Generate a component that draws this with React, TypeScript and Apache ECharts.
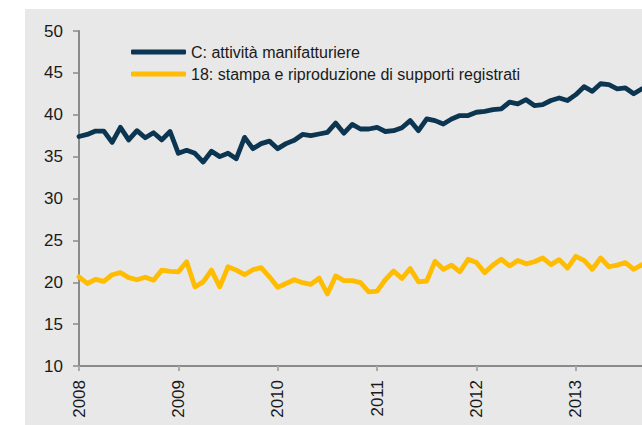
import React, { useEffect, useRef } from "react";
import * as echarts from "echarts";

const years = ["2008", "2009", "2010", "2011", "2012", "2013"];
const monthsShown = 69; // Jan 2008 .. Sep 2013 (visible part)

const seriesNames = [
  "C: attività manifatturiere",
  "18: stampa e riproduzione di supporti registrati",
];

const manifatturiere = [
  37.4, 37.65, 38.05, 38.05, 36.7, 38.5, 37.0, 38.1, 37.25, 37.85, 37.0, 38.0,
  35.4, 35.75, 35.4, 34.35, 35.65, 35.0, 35.4, 34.75, 37.3, 35.95, 36.55, 36.85,
  35.95, 36.55, 36.95, 37.65, 37.5, 37.7, 37.9, 39.0, 37.8, 38.85, 38.3, 38.3,
  38.5, 38.0, 38.1, 38.45, 39.3, 38.1, 39.5, 39.3, 38.9, 39.5, 39.9, 39.9,
  40.3, 40.4, 40.6, 40.7, 41.5, 41.3, 41.8, 41.1, 41.2, 41.7, 42.0, 41.7,
  42.4, 43.35, 42.8, 43.7, 43.6, 43.1, 43.2, 42.5, 43.1,
];

const stampa = [
  20.65, 19.85, 20.35, 20.1, 20.9, 21.15, 20.55, 20.3, 20.6, 20.25, 21.45, 21.3,
  21.25, 22.45, 19.45, 20.05, 21.45, 19.45, 21.85, 21.45, 20.9, 21.5, 21.75, 20.65,
  19.4, 19.85, 20.3, 19.95, 19.75, 20.5, 18.6, 20.75, 20.2, 20.2, 19.95, 18.85,
  18.95, 20.3, 21.35, 20.45, 21.65, 20.05, 20.15, 22.5, 21.55, 22.05, 21.25, 22.75,
  22.35, 21.15, 22.05, 22.75, 21.95, 22.6, 22.2, 22.45, 22.9, 22.1, 22.7, 21.7,
  23.1, 22.6, 21.55, 22.9, 21.85, 22.05, 22.35, 21.55, 22.1,
];

const yTicks = { min: 10, max: 50, interval: 5 };

const categories: string[] = [];
for (let i = 0; i < monthsShown; i++) {
  const y = years[Math.floor(i / 12)];
  const m = (i % 12) + 1;
  categories.push(`${y}-${m < 10 ? "0" + m : m}`);
}

const NAVY = "#0b3551";
const YELLOW = "#ffbc00";
const AXIS = "#8a8a8a";
const FONT = "'Liberation Sans', Arial, Helvetica, sans-serif";

export default function App() {
  const ref = useRef<HTMLDivElement>(null);
  useEffect(() => {
    if (!ref.current) return;
    const chart = echarts.init(ref.current, undefined, { renderer: "svg" });
    chart.setOption({
      animation: false,
      textStyle: { fontFamily: FONT },
      grid: { left: 79, right: 0, top: 31, bottom: 59, containLabel: false },
      legend: {
        orient: "vertical",
        left: 131,
        top: 44,
        padding: 0,
        itemGap: 6,
        itemWidth: 55,
        itemHeight: 5,
        icon: "roundRect",
        textStyle: { fontSize: 16, color: "#1a1a1a", fontFamily: FONT },
        data: seriesNames,
      },
      xAxis: {
        type: "category",
        data: categories,
        boundaryGap: false,
        axisLine: { lineStyle: { color: AXIS, width: 2 } },
        axisTick: {
          interval: (i: number) => i % 12 === 0,
          length: 5,
          lineStyle: { color: "#aaaaaa", width: 2 },
        },
        axisLabel: {
          interval: (i: number) => i % 12 === 0,
          rotate: 90,
          margin: 14,
          fontSize: 17,
          color: "#1a1a1a",
          formatter: (v: string) => v.slice(0, 4),
        },
        splitLine: { show: false },
      },
      yAxis: {
        type: "value",
        min: yTicks.min,
        max: yTicks.max,
        interval: yTicks.interval,
        axisLine: { show: true, lineStyle: { color: AXIS, width: 2 } },
        axisTick: { show: true, length: 6, lineStyle: { color: AXIS, width: 1.5 } },
        axisLabel: { fontSize: 17, color: "#1a1a1a", margin: 16 },
        splitLine: { show: false },
      },
      series: [
        {
          name: seriesNames[0],
          type: "line",
          data: manifatturiere,
          showSymbol: false,
          symbol: "none",
          lineStyle: { color: NAVY, width: 4.8, join: "round", cap: "round" },
          itemStyle: { color: NAVY },
        },
        {
          name: seriesNames[1],
          type: "line",
          data: stampa,
          showSymbol: false,
          symbol: "none",
          lineStyle: { color: YELLOW, width: 4.8, join: "round", cap: "round" },
          itemStyle: { color: YELLOW },
        },
      ],
    });
    return () => chart.dispose();
  }, []);

  return (
    <div
      style={{
        position: "fixed",
        left: 0,
        top: 0,
        width: 642,
        height: 425,
        overflow: "hidden",
        background: "#ffffff",
      }}
    >
      <div
        style={{
          position: "absolute",
          left: 25,
          top: 9,
          right: 0,
          bottom: 0,
          background: "#e8e8e8",
        }}
      />
      <div
        ref={ref}
        style={{ position: "absolute", left: 0, top: 0, width: 642, height: 425 }}
      />
    </div>
  );
}
